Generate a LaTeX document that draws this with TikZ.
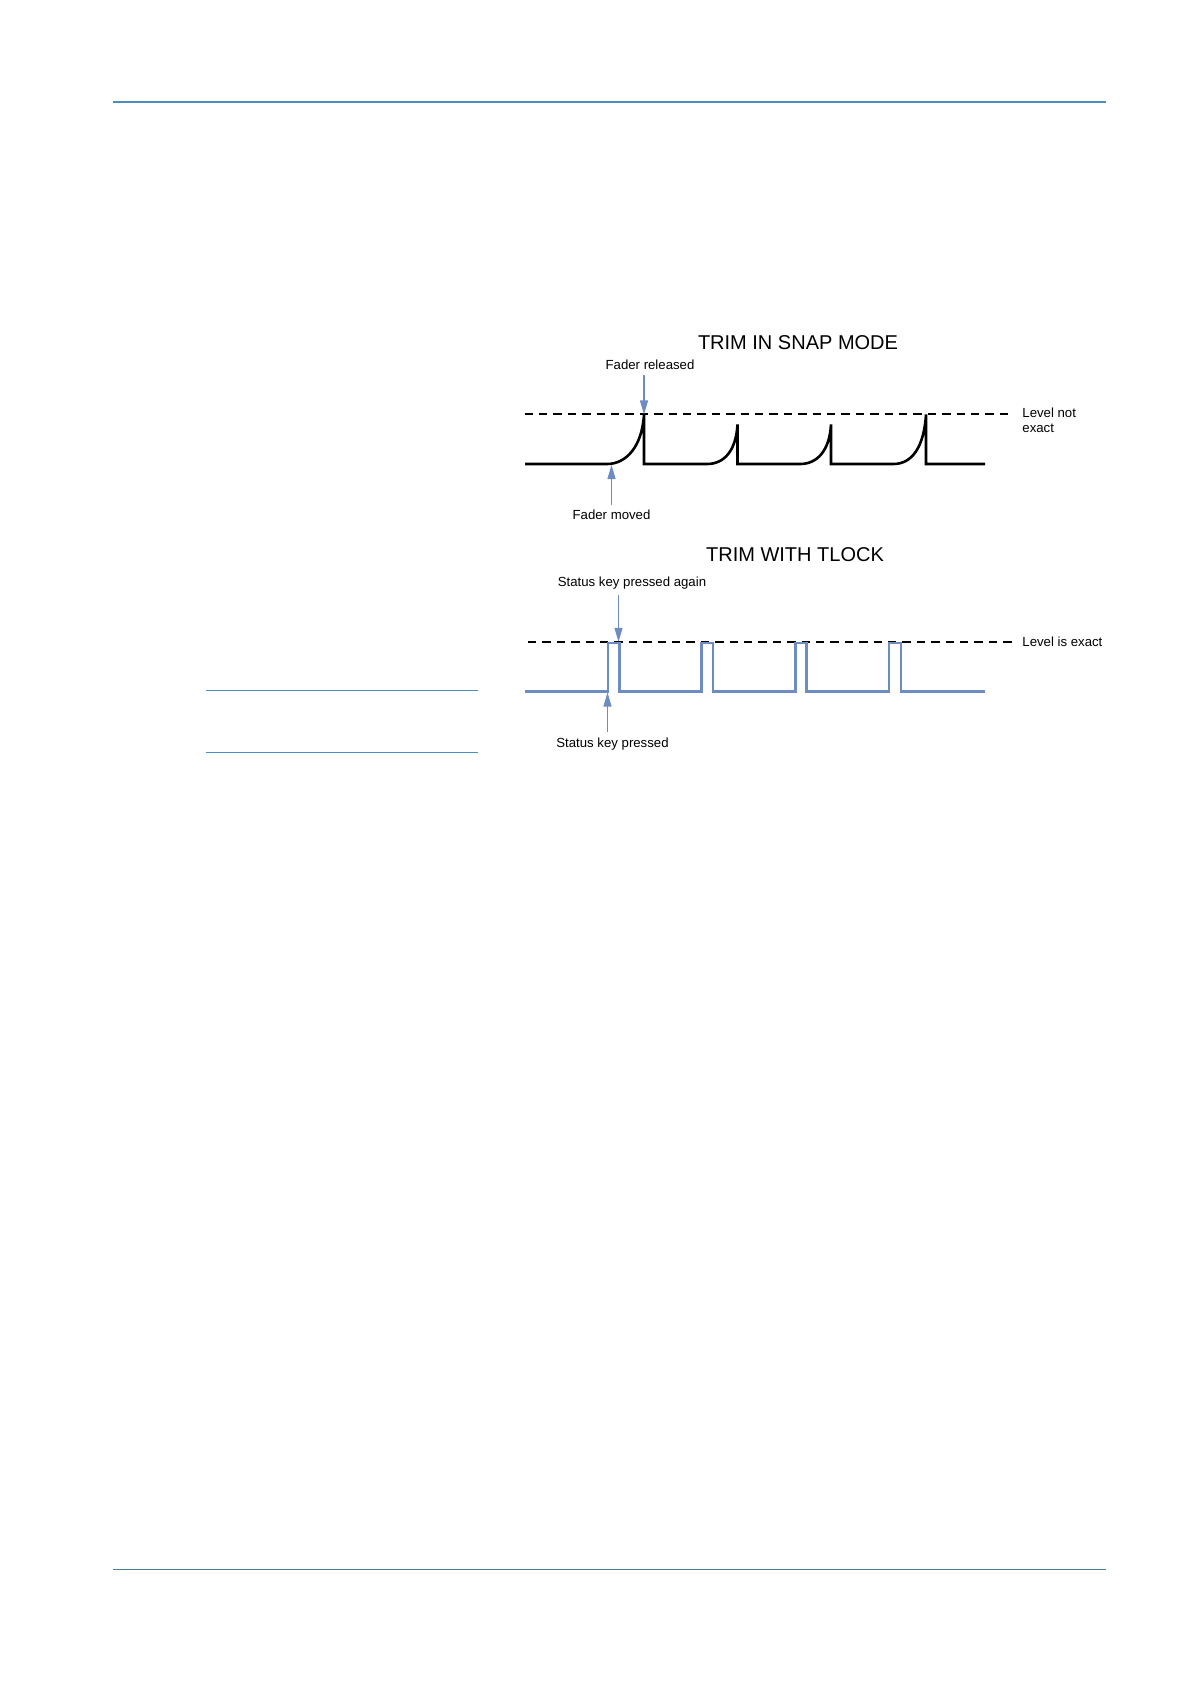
\documentclass[tikz,border=0pt]{standalone}
\usepackage{fontspec}
\setmainfont{Liberation Sans}
\usepackage{tikz}
\usetikzlibrary{arrows.meta}
\definecolor{keyblue}{RGB}{108,140,194}
\definecolor{ruleblue}{RGB}{74,143,190}
\definecolor{rulegrey}{RGB}{72,128,150}
\def\ttl{\fontsize{10}{12}\selectfont}
\def\lbl{\fontsize{6.6}{7.3}\selectfont}

\begin{document}
\begin{tikzpicture}[x=0.5pt, y=-0.5pt,
	level/.style={line width=1pt, dash pattern=on 4.2pt off 3pt},
	snapwave/.style={line width=1.3pt, black, line join=miter},
	lockwave/.style={line width=1.15pt, keyblue, line join=miter},
	marker/.style={line width=0.6pt, keyblue, -{Triangle[length=7pt,width=4pt]}},
	pagerule/.style={line width=0.8pt, ruleblue},
	lab/.style={inner sep=1pt, font=\lbl}]
	\useasboundingbox (0,0) rectangle (1191,1684);
	% page rules
	\draw[pagerule] (113,102.3) -- (1106,102.3);
	\draw[pagerule, rulegrey] (113,1569.3) -- (1106,1569.3);
	\draw[pagerule] (206,690.3) -- (478,690.3);
	\draw[pagerule] (206,752.3) -- (478,752.3);
	% trim in snap mode
	\node[font=\ttl] (snap) at (798,343) {TRIM IN SNAP MODE};
	\draw[level] (524.6,414.5) -- (1014,414.5);
	\node[lab, anchor=west, align=left] (notexact) at (1020,420) {Level not\\exact};
	\draw[snapwave] (525,464) -- (607,464) .. controls (626,464) and (642,447) .. (644,414.5) -- (644,464)
		-- (707,464) .. controls (724,464) and (736,451) .. (737.5,424.5) -- (737.5,464)
		-- (800,464) .. controls (817,464) and (829.5,451) .. (831,424.5) -- (831,464)
		-- (893.5,464) .. controls (912,464) and (924,447) .. (926,414.5) -- (926,464) -- (985,464);
	\coordinate (peak) at (644,414.5);
	\coordinate (start) at (611.5,465);
	\node[lab] (released) at (650,365) {Fader released};
	\node[lab] (moved) at (611.5,515) {Fader moved};
	\draw[marker] (released.south -| peak) ++(0,3) -- (peak);
	\draw[marker] (moved.north) ++(0,-3) -- (start);
	% trim with tlock
	\node[font=\ttl] (tlock) at (795,555) {TRIM WITH TLOCK};
	\draw[level] (528,641.8) -- (1014,641.8);
	\node[lab, anchor=west] (exact) at (1020,642) {Level is exact};
	\draw[lockwave] (524.6,691.5) -- (608,691.5) -- (608,643) -- (619.5,643) -- (619.5,691.5)
		-- (701.5,691.5) -- (701.5,643) -- (713,643) -- (713,691.5)
		-- (795.5,691.5) -- (795.5,643) -- (806.5,643) -- (806.5,691.5)
		-- (889,691.5) -- (889,643) -- (901,643) -- (901,691.5) -- (985,691.5);
	\coordinate (keyup) at (618.5,641.8);
	\coordinate (keydown) at (607.5,692.5);
	\node[lab] (again) at (632,583) {Status key pressed again};
	\node[lab] (pressed) at (612.5,744) {Status key pressed};
	\draw[marker] (again.south -| keyup) ++(0,3) -- (keyup);
	\draw[marker] (pressed.north -| keydown) ++(0,-3) -- (keydown);
\end{tikzpicture}
\end{document}
